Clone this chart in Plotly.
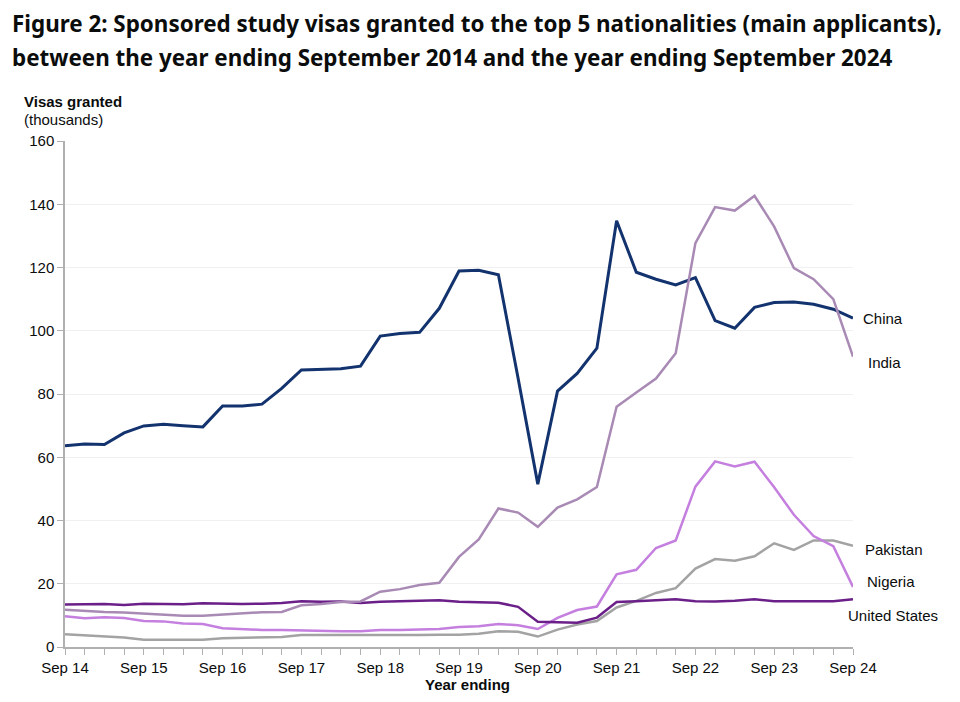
import plotly.graph_objects as go

# Quarterly categories: year ending Sep 2014 ... Sep 2024
months = ["Sep", "Dec", "Mar", "Jun"]
quarters = []
for i in range(41):
    m = months[i % 4]
    yr = 14 + (i + 1) // 4 if m != "Sep" else 14 + i // 4
    quarters.append(f"{m} {yr}")

tick_labels = ["Sep 14", "Sep 15", "Sep 16", "Sep 17", "Sep 18", "Sep 19",
               "Sep 20", "Sep 21", "Sep 22", "Sep 23", "Sep 24"]

china = [63.6, 64.2, 64.0, 67.7, 69.9, 70.4, 70.0, 69.6, 76.2, 76.2,
         76.8, 81.8, 87.6, 87.7, 88.0, 88.8, 98.3, 99.1, 99.5, 107.1,
         118.9, 119.1, 117.7, 85.0, 51.5, 80.9, 86.5, 94.5, 134.8, 118.5,
         116.3, 114.5, 116.8, 103.2, 100.8, 107.4, 108.9, 109.1, 108.4, 106.8,
         104.0]
india = [11.8, 11.4, 11.1, 10.9, 10.6, 10.3, 9.9, 9.9, 10.3, 10.6,
         11.0, 11.1, 13.2, 13.6, 14.2, 14.4, 17.5, 18.3, 19.6, 20.3,
         28.5, 34.0, 43.8, 42.5, 38.0, 44.1, 46.7, 50.6, 76.0, 80.5,
         84.9, 92.9, 127.7, 139.1, 138.0, 142.7, 132.9, 119.8, 116.3, 110.0,
         91.8]
pakistan = [4.0, 3.6, 3.3, 3.0, 2.3, 2.3, 2.3, 2.3, 2.8, 2.9,
            3.1, 3.2, 3.8, 3.8, 3.7, 3.6, 3.7, 3.7, 3.8, 3.9,
            3.9, 4.2, 5.0, 4.8, 3.3, 5.5, 7.1, 8.2, 12.5, 14.6,
            17.1, 18.6, 24.8, 27.8, 27.3, 28.7, 32.8, 30.7, 33.7, 33.7,
            32.0]
nigeria = [9.7, 9.1, 9.4, 9.2, 8.2, 8.1, 7.4, 7.3, 5.9, 5.6,
           5.4, 5.4, 5.2, 5.0, 5.0, 5.0, 5.4, 5.4, 5.6, 5.7,
           6.3, 6.6, 7.3, 6.9, 5.7, 9.2, 11.7, 12.8, 23.0, 24.4,
           31.3, 33.7, 50.7, 58.7, 57.1, 58.6, 50.5, 41.8, 35.1, 31.9,
           19.0]
united_states = [13.4, 13.5, 13.6, 13.3, 13.7, 13.6, 13.5, 13.8, 13.6, 13.6,
                 13.7, 13.9, 14.5, 14.3, 14.4, 13.9, 14.3, 14.5, 14.6, 14.8,
                 14.3, 14.1, 14.0, 12.7, 8.0, 7.8, 7.7, 9.3, 14.2, 14.5,
                 14.7, 15.1, 14.5, 14.4, 14.6, 15.1, 14.5, 14.5, 14.3, 14.5,
                 15.1]

series = [
    ("Pakistan", pakistan, "#a3a3a3", 2.5, 30.9, 863),
    ("Nigeria", nigeria, "#c47fdf", 2.5, 20.8, 865),
    ("United States", united_states, "#6b1f88", 2.5, 10.0, 846),
    ("China", china, "#13336f", 3, 104.0, 861),
    ("India", india, "#a88ab5", 2.5, 90.1, 866),
]

FONT = "Liberation Sans, Arial, sans-serif"
TITLE_FONT = "Noto Sans, sans-serif"

# page offset from default body margin
OFF = 8
W, H = 960 - 2 * OFF, 702 - 2 * OFF
PL, PR, PT, PB = 65, 853, 141, 647          # plot area in page pixels
L, T = PL - OFF, PT - OFF
R = W - (PR - OFF)
B = H - (PB - OFF)
pw = PR - PL
ph = PB - PT


def px_x(px):
    return (px - PL) / pw


def px_y(py):
    return 1 - (py - PT) / ph


fig = go.Figure()
for name, vals, color, width, label_y, label_x in series:
    fig.add_trace(go.Scatter(x=quarters, y=vals, mode="lines", name=name,
                             line=dict(color=color, width=width),
                             showlegend=False))

for name, vals, color, width, label_y, label_x in series:
    fig.add_annotation(x=px_x(label_x), xref="paper", y=label_y, yref="y",
                       text=name, showarrow=False, xanchor="left", yanchor="middle",
                       font=dict(family=FONT, size=15, color="#0b0c0c"))

tickvals = quarters
ticktext = [q if q in tick_labels else "" for q in quarters]

fig.update_layout(
    width=W, height=H,
    margin=dict(l=L, r=R, t=T, b=B),
    paper_bgcolor="white", plot_bgcolor="white",
    font=dict(family=FONT, size=15, color="#0b0c0c"),
    xaxis=dict(type="category", range=[0, 40], tickmode="array",
               tickvals=tickvals, ticktext=ticktext,
               showgrid=False, showline=True, linecolor="#b0b0b0", linewidth=1.5,
               ticks="outside", ticklen=6, tickcolor="#b0b0b0", tickwidth=1,
               tickfont=dict(family=FONT, size=15, color="#0b0c0c"), zeroline=False),
    yaxis=dict(range=[0, 160], tickvals=[0, 20, 40, 60, 80, 100, 120, 140, 160],
               showgrid=True, gridcolor="#f0f0f0", gridwidth=1,
               showline=True, linecolor="#b0b0b0", linewidth=1.5,
               ticks="outside", ticklen=6, tickcolor="#b0b0b0",
               tickfont=dict(family=FONT, size=15, color="#0b0c0c"), zeroline=False),
)

fig.add_annotation(x=px_x(10), y=px_y(23), xref="paper", yref="paper",
                   text="<b>Figure 2: Sponsored study visas granted to the top 5 nationalities (main applicants),</b>",
                   showarrow=False, xanchor="left", yanchor="middle",
                   font=dict(family=TITLE_FONT, size=22.4, color="#0b0c0c"))
fig.add_annotation(x=px_x(10), y=px_y(57), xref="paper", yref="paper",
                   text="<b>between the year ending September 2014 and the year ending September 2024</b>",
                   showarrow=False, xanchor="left", yanchor="middle",
                   font=dict(family=TITLE_FONT, size=22.4, color="#0b0c0c"))
fig.add_annotation(x=px_x(22), y=px_y(101), xref="paper", yref="paper",
                   text="<b>Visas granted</b>", showarrow=False, xanchor="left", yanchor="middle",
                   font=dict(family=FONT, size=15, color="#0b0c0c"))
fig.add_annotation(x=px_x(22), y=px_y(119), xref="paper", yref="paper",
                   text="(thousands)", showarrow=False, xanchor="left", yanchor="middle",
                   font=dict(family=FONT, size=15, color="#0b0c0c"))
fig.add_annotation(x=px_x(468), y=px_y(684), xref="paper", yref="paper",
                   text="<b>Year ending</b>", showarrow=False, xanchor="center", yanchor="middle",
                   font=dict(family=FONT, size=15, color="#0b0c0c"))

fig.write_html("out.html")
